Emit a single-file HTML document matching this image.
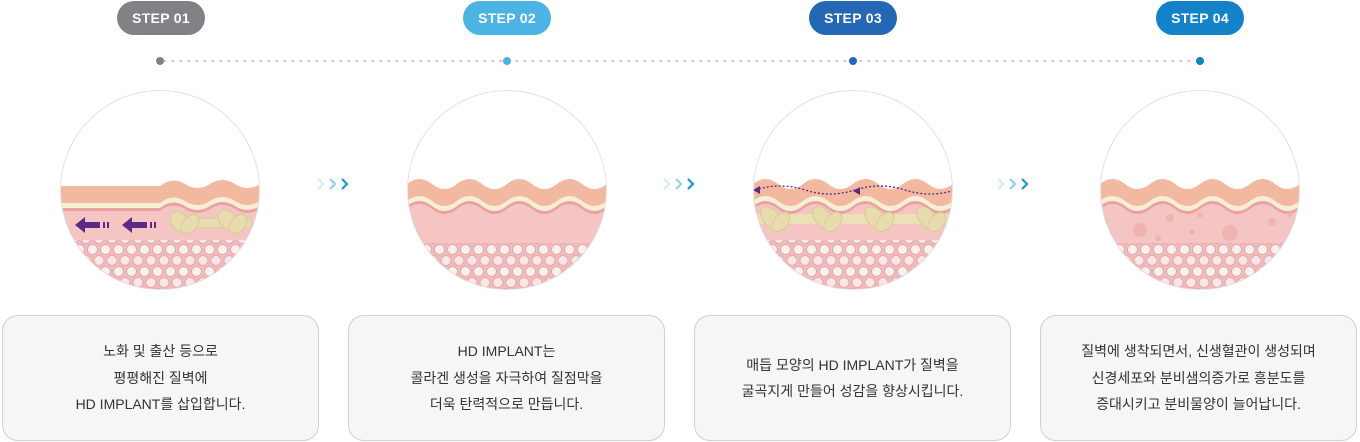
<!DOCTYPE html>
<html><head><meta charset="utf-8"><style>
body{margin:0;width:1360px;height:442px;background:#fff;position:relative;overflow:hidden;font-family:"Liberation Sans","Noto Sans CJK KR",sans-serif}
.pill{position:absolute;top:1px;width:88px;height:34px;border-radius:17px;color:#fff;font-size:14px;font-weight:bold;text-align:center;line-height:34px;letter-spacing:0.3px}
.box{position:absolute;top:315px;width:315px;height:124px;border:1px solid #cfcfcf;border-radius:16px;background:#f6f6f6;display:flex;align-items:center;justify-content:center;text-align:center;font-size:14px;line-height:26.5px;color:#333}
svg{position:absolute;left:0;top:0}
</style></head><body>
<svg width="1360" height="442" viewBox="0 0 1360 442">
<defs>
<path id="wv" d="M-5,94 Q0,90 0,94 Q12.5,84 25,94 T50,94 T75,94 T100,94 T125,94 T150,94 T175,94 T200,94 T225,94 L225,230 L-5,230Z"/>
<path id="fl" d="M-5,96 L100,96 Q112.5,86 125,94 T150,94 T175,94 T200,94 T225,94 L225,230 L-5,230Z"/>
<pattern id="cells" x="0" y="0" width="13" height="22" patternUnits="userSpaceOnUse">
<rect width="13" height="22" fill="#eebcbc"/>
<circle cx="6.5" cy="5.5" r="5" fill="#fcefef" stroke="#e7a9a9" stroke-width="1"/>
<circle cx="0" cy="16.5" r="5" fill="#fae6e6" stroke="#e7a9a9" stroke-width="1"/>
<circle cx="13" cy="16.5" r="5" fill="#fae6e6" stroke="#e7a9a9" stroke-width="1"/>
</pattern>
<clipPath id="cc"><circle cx="100" cy="100" r="99"/></clipPath>
<g id="chev" fill="none" stroke-width="2.2">
<polyline points="0,-5 5,0 0,5" stroke="#d3ecf8"/>
<polyline points="12,-5 17,0 12,5" stroke="#8fd0ee"/>
<polyline points="24,-5 29,0 24,5" stroke="#1a97d5"/>
</g>
<g id="col">
<rect x="-5" y="0" width="210" height="9" fill="#ece0b6"/>
</g>
</defs>

<!-- dotted line -->
<line x1="164" y1="61" x2="1196" y2="61" stroke="#b5bcc4" stroke-width="1.6" stroke-dasharray="1.6 6.4" stroke-linecap="round"/>
<circle cx="160" cy="61" r="4" fill="#808285"/>
<circle cx="507" cy="61" r="4" fill="#4cb3e5"/>
<circle cx="853" cy="61" r="4" fill="#2367b5"/>
<circle cx="1200" cy="61" r="4" fill="#1482c9"/>

<!-- circle 1 -->
<g transform="translate(60,90)">
<circle cx="100" cy="100" r="99.5" fill="#fff" stroke="#e2e2e2"/>
<g clip-path="url(#cc)">
<use href="#fl" fill="#f2b9a0"/>
<use href="#fl" y="17" fill="#f7efd5"/>
<use href="#fl" y="22" fill="#e9a1a1"/>
<use href="#fl" y="25" fill="#f5c5c3"/>
<rect x="0" y="150" width="200" height="60" fill="url(#cells)"/>
<g fill="#e8dcae" stroke="#d9c996" stroke-width="1">
<rect x="112" y="128" width="80" height="10" rx="5"/>
<ellipse cx="120" cy="132" rx="8" ry="12" transform="rotate(-40 120 132)"/>
<ellipse cx="168" cy="130" rx="8" ry="12" transform="rotate(-40 168 130)"/>
<ellipse cx="130" cy="134" rx="7" ry="11" transform="rotate(40 130 134)"/>
<ellipse cx="178" cy="134" rx="7" ry="11" transform="rotate(40 178 134)"/>
</g>
<g fill="#5b2a86">
<polygon points="15,135 25,127 25,132 40,132 40,138 25,138 25,143"/>
<rect x="43" y="132" width="2" height="6"/><rect x="47" y="132" width="2" height="6"/>
<polygon points="62,135 72,127 72,132 87,132 87,138 72,138 72,143"/>
<rect x="90" y="132" width="2" height="6"/><rect x="94" y="132" width="2" height="6"/>
</g>
</g></g>

<!-- circle 2 -->
<g transform="translate(407,90)">
<circle cx="100" cy="100" r="99.5" fill="#fff" stroke="#e2e2e2"/>
<g clip-path="url(#cc)">
<use href="#wv" fill="#f2b9a0"/>
<use href="#wv" y="17" fill="#f7efd5"/>
<use href="#wv" y="22" fill="#e9a1a1"/>
<use href="#wv" y="25" fill="#f5c5c3"/>
<rect x="0" y="153" width="200" height="60" fill="url(#cells)"/>
</g></g>

<!-- circle 3 -->
<g transform="translate(753,90)">
<circle cx="100" cy="100" r="99.5" fill="#fff" stroke="#e2e2e2"/>
<g clip-path="url(#cc)">
<use href="#wv" fill="#f2b9a0"/>
<use href="#wv" y="17" fill="#f7efd5"/>
<use href="#wv" y="22" fill="#e9a1a1"/>
<use href="#wv" y="25" fill="#f5c5c3"/>
<rect x="0" y="150" width="200" height="60" fill="url(#cells)"/>
<rect x="0" y="124" width="200" height="10" fill="#ece0b6"/>
<g fill="#e8dcae" stroke="#d9c996" stroke-width="1">
<ellipse cx="18" cy="128" rx="8" ry="13" transform="rotate(-40 18 128)"/>
<ellipse cx="70" cy="128" rx="8" ry="13" transform="rotate(-40 70 128)"/>
<ellipse cx="122" cy="128" rx="8" ry="13" transform="rotate(-40 122 128)"/>
<ellipse cx="174" cy="128" rx="8" ry="13" transform="rotate(-40 174 128)"/>
<ellipse cx="28" cy="132" rx="7" ry="11" transform="rotate(40 28 132)"/>
<ellipse cx="80" cy="132" rx="7" ry="11" transform="rotate(40 80 132)"/>
<ellipse cx="132" cy="132" rx="7" ry="11" transform="rotate(40 132 132)"/>
<ellipse cx="184" cy="132" rx="7" ry="11" transform="rotate(40 184 132)"/>
</g>
<path d="M2,100 Q27,92 52,100 T102,100 T152,100 T202,100" fill="none" stroke="#5b2a86" stroke-width="1.3" stroke-dasharray="2 2"/>
<polygon points="0,100 7,96 7,104" fill="#5b2a86"/>
<polygon points="100,101 107,97 107,105" fill="#5b2a86"/>
</g></g>

<!-- circle 4 -->
<g transform="translate(1100,90)">
<circle cx="100" cy="100" r="99.5" fill="#fff" stroke="#e2e2e2"/>
<g clip-path="url(#cc)">
<use href="#wv" fill="#f2b9a0"/>
<use href="#wv" y="17" fill="#f7efd5"/>
<use href="#wv" y="22" fill="#e9a1a1"/>
<use href="#wv" y="25" fill="#f5c5c3"/>
<g fill="#eeb0ac" opacity="0.8">
<circle cx="40" cy="140" r="7"/><circle cx="130" cy="143" r="8"/><circle cx="70" cy="128" r="4"/>
<circle cx="172" cy="132" r="4"/><circle cx="5" cy="132" r="3"/><circle cx="58" cy="148" r="3"/>
<circle cx="92" cy="142" r="3"/><circle cx="190" cy="124" r="3"/><circle cx="100" cy="125" r="3"/>
</g>
<rect x="0" y="153" width="200" height="60" fill="url(#cells)"/>
</g></g>

<use href="#chev" x="318" y="184"/>
<use href="#chev" x="664" y="184"/>
<use href="#chev" x="998" y="184"/>
</svg>

<div class="pill" style="left:117px;background:#808285">STEP 01</div>
<div class="pill" style="left:463px;background:#4cb3e5">STEP 02</div>
<div class="pill" style="left:809px;background:#2367b5">STEP 03</div>
<div class="pill" style="left:1156px;background:#1482c9">STEP 04</div>

<div class="box" style="left:2px">노화 및 출산 등으로<br>평평해진 질벽에<br>HD IMPLANT를 삽입합니다.</div>
<div class="box" style="left:348px">HD IMPLANT는<br>콜라겐 생성을 자극하여 질점막을<br>더욱 탄력적으로 만듭니다.</div>
<div class="box" style="left:694px">매듭 모양의 HD IMPLANT가 질벽을<br>굴곡지게 만들어 성감을 향상시킵니다.</div>
<div class="box" style="left:1040px">질벽에 생착되면서, 신생혈관이 생성되며<br>신경세포와 분비샘의증가로 흥분도를<br>증대시키고 분비물양이 늘어납니다.</div>
</body></html>
